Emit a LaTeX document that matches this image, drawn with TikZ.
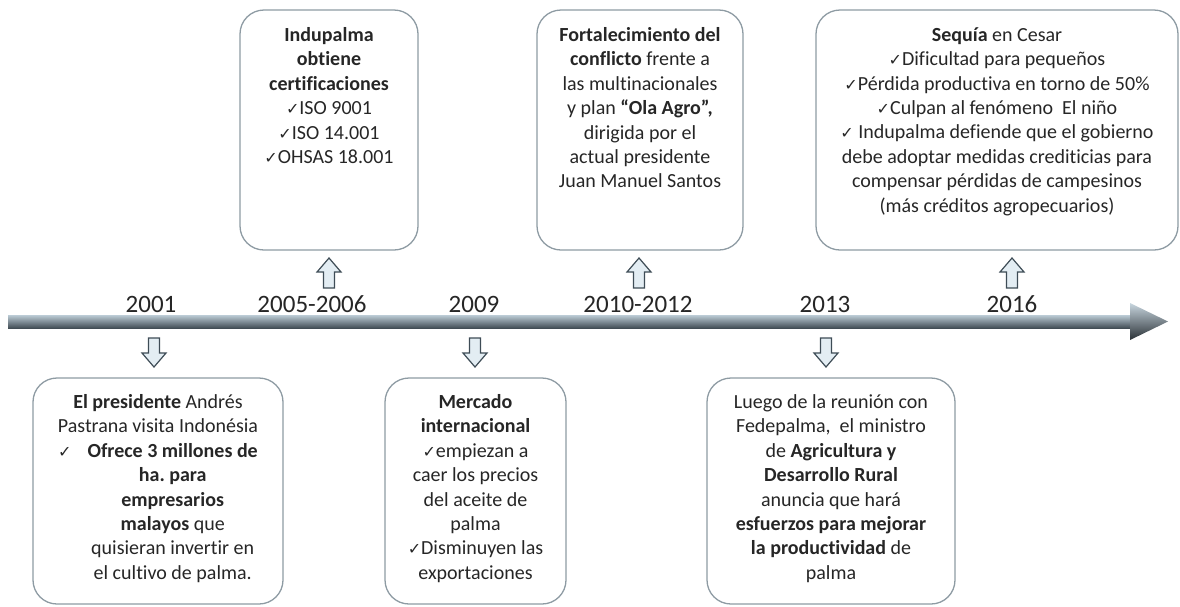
\documentclass[tikz,border=0pt]{standalone}
\usepackage{fontspec}
\setmainfont{Carlito}[Ligatures=NoCommon]
\newfontfamily\dejavu{DejaVu Sans}
\usepackage{tikz}
\usetikzlibrary{calc}
\newcommand{\chk}{{\dejavu\fontsize{16}{16}\selectfont ✓}}
\definecolor{txtgray}{HTML}{262626}
\definecolor{boxgray}{HTML}{8E9BA3}
\definecolor{arrline}{HTML}{3E4C56}
\definecolor{arrfill}{HTML}{E3EDF3}
\definecolor{bartop}{HTML}{BCCCD6}
\definecolor{barmid}{HTML}{8C9DA8}
\definecolor{barbot}{HTML}{424D55}
\definecolor{headtop}{HTML}{C8D6DF}
\definecolor{headbot}{HTML}{2A3136}

\begin{document}
\begin{tikzpicture}[x=1pt,y=-1pt,
  card/.style={draw=boxgray,line width=1.3pt,rounded corners=24pt,inner sep=0pt},
  cardtext/.style={anchor=north,align=center,inner sep=0pt,text=txtgray,
    font=\fontsize{20}{24.4}\selectfont,execute at begin node=\strut},
  year/.style={anchor=base,text=txtgray,font=\fontsize{25}{25}\selectfont},
  blockarr/.style={draw=arrline,fill=arrfill,line width=1.2pt,line join=miter}]
\useasboundingbox (0,0) rectangle (1180,606);

% timeline
\shade[top color=bartop,middle color=barmid,bottom color=barbot] (8,315) rectangle (1131,328);
\shade[top color=headtop,bottom color=headbot] (1130,303) -- (1168,321.5) -- (1130,340) -- cycle;

% boxes above
\node[card,minimum width=178pt,minimum height=240pt] (box1) at (329,130) {};
\node[card,minimum width=206pt,minimum height=240pt] (box2) at (640,130) {};
\node[card,minimum width=362pt,minimum height=240pt] (box3) at (997,130) {};
% boxes below
\node[card,minimum width=250pt,minimum height=226pt] (box4) at (158,491) {};
\node[card,minimum width=181pt,minimum height=226pt] (box5) at (475.5,491) {};
\node[card,minimum width=248pt,minimum height=226pt] (box6) at (831,491) {};

\node[cardtext] (txt1) at ($(box1.north)+(0,18)$) {\textbf{Indupalma}\\ \textbf{obtiene}\\ \textbf{certificaciones}\\
  \chk ISO 9001\\ \chk ISO 14.001\\ \chk OHSAS 18.001};
\node[cardtext] (txt2) at ($(box2.north)+(0,18)$) {\textbf{Fortalecimiento del}\\ \textbf{conflicto} frente a\\
  las multinacionales\\ y plan \textbf{“Ola Agro”,}\\ dirigida por el\\ actual presidente\\ Juan Manuel Santos};
\node[cardtext] (txt3) at ($(box3.north)+(0,18)$) {\textbf{Sequía} en Cesar\\ \chk Dificultad para pequeños\\
  \chk Pérdida productiva en torno de 50\%\\ \chk Culpan al fenómeno~ El niño\\
  \chk{} Indupalma defiende que el gobierno\\ debe adoptar medidas crediticias para\\
  compensar pérdidas de campesinos\\ (más créditos agropecuarios)};
\node[cardtext] (txt4) at ($(box4.north)+(0,17)$) {\textbf{El presidente} Andrés\\ Pastrana visita Indonésia\\
  \begin{tabular}[t]{@{}l@{\hspace{16pt}}c@{}}
  \chk & \textbf{Ofrece 3 millones de}\\ & \textbf{ha.\ para}\\ & \textbf{empresarios}\\
  & \textbf{malayos} que\\ & quisieran invertir en\\ & el cultivo de palma.
  \end{tabular}};
\node[cardtext] (txt5) at ($(box5.north)+(0,17)$) {\textbf{Mercado}\\ \textbf{internacional}\\ \chk empiezan a\\
  caer los precios\\ del aceite de\\ palma\\ \chk Disminuyen las\\ exportaciones};
\node[cardtext] (txt6) at ($(box6.north)+(0,17)$) {Luego de la reunión con\\ Fedepalma,~ el ministro\\
  de \textbf{Agricultura y}\\ \textbf{Desarrollo Rural}\\ anuncia que hará\\
  \textbf{esfuerzos para mejorar}\\ \textbf{la productividad} de\\ palma};

% years
\node[year] (yr1) at (151,312) {2001};
\node[year] (yr2) at (312,312) {2005-2006};
\node[year] (yr3) at (474,312) {2009};
\node[year] (yr4) at (638,312) {2010-2012};
\node[year] (yr5) at (825,312) {2013};
\node[year] (yr6) at (1012,312) {2016};

% arrows up and down
\foreach \x in {329,639,1012}
  \draw[blockarr] (\x,258) -- ++(12,14) -- ++(-6.5,0) -- ++(0,16) -- ++(-11,0) -- ++(0,-16) -- ++(-6.5,0) -- cycle;
\foreach \x in {154,475,826}
  \draw[blockarr] (\x,367) -- ++(12,-14) -- ++(-6.5,0) -- ++(0,-15) -- ++(-11,0) -- ++(0,15) -- ++(-6.5,0) -- cycle;

\end{tikzpicture}
\end{document}
